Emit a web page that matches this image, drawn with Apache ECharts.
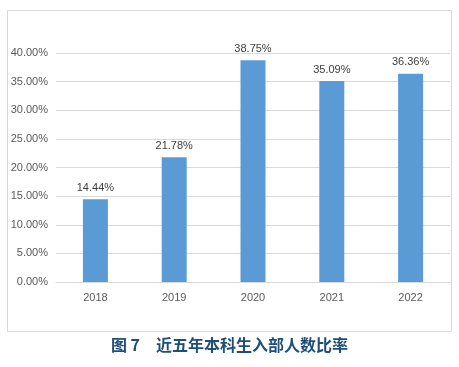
<!DOCTYPE html>
<html><head><meta charset="utf-8">
<script src="https://cdn.jsdelivr.net/npm/echarts@6/dist/echarts.min.js"></script>
<style>html,body{margin:0;padding:0;background:#fff}#c{width:459px;height:367px}</style>
</head><body><div id="c"></div>
<script>
const categories = ['2018','2019','2020','2021','2022'];
const values = [14.44, 21.78, 38.75, 35.09, 36.36];
const titleText = '图 7\u3000近五年本科生入部人数比率';
const chart = echarts.init(document.getElementById('c'), null, {renderer:'canvas'});
chart.setOption({
  animation:false,
  backgroundColor:'#fff',
  graphic:[
    {type:'rect', shape:{x:7.5,y:10.5,width:444,height:321}, style:{fill:'#fff',stroke:'#d9d9d9',lineWidth:1}, z:-1},
    {type:'text', left:'center', top:337, style:{text:titleText, fill:'#1f4e79', font:'bold 16px "Noto Sans CJK SC"'}}
  ],
  grid:{left:56, right:9, top:53, bottom:85},
  xAxis:{type:'category', data:categories,
    axisLine:{lineStyle:{color:'#d9d9d9'}}, axisTick:{show:false},
    axisLabel:{color:'#595959', fontSize:11, fontFamily:'Liberation Sans', margin:10}},
  yAxis:{type:'value', min:0, max:40, interval:5,
    axisLine:{show:false}, axisTick:{show:false},
    splitLine:{lineStyle:{color:'#d9d9d9'}},
    axisLabel:{color:'#595959', fontSize:11, fontFamily:'Liberation Sans', margin:8, formatter:v=>v.toFixed(2)+'%'}},
  series:[{type:'bar', data:values, barWidth:25, itemStyle:{color:'#5b9bd5'},
    label:{show:true, position:'top', color:'#404040', fontSize:11, fontFamily:'Liberation Sans', distance:6, formatter:p=>p.value.toFixed(2)+'%'}}]
});
</script></body></html>
